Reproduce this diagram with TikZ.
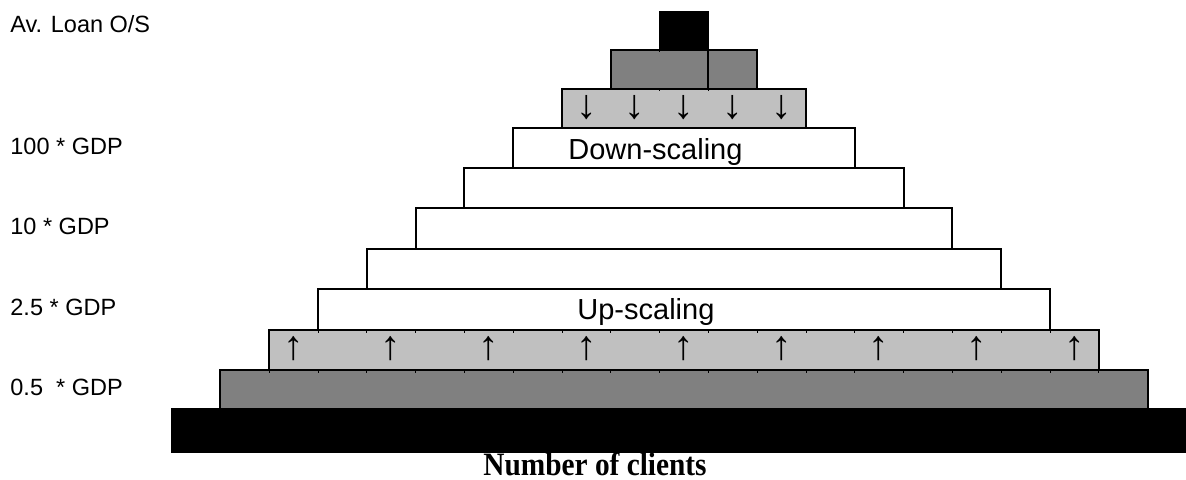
\documentclass[tikz,border=0pt]{standalone}
\usepackage{fontspec}
\setmainfont{Liberation Sans}
\newfontfamily\clientsfont{Liberation Serif}[FakeStretch=0.9]
\usetikzlibrary{calc}
\definecolor{dgray}{HTML}{808080}
\definecolor{lgray}{HTML}{C0C0C0}
\begin{document}
\begin{tikzpicture}[
        x=0.5pt, y=-0.5pt,
        tier/.style={rectangle, draw=black, line width=1pt, inner sep=0pt, outer sep=0pt},
        gridtick/.style={draw=black, line width=0.5pt},
        arrowmark/.style={font=\fontsize{20.5}{24}\selectfont, inner sep=0pt},
        tierlabel/.style={font=\fontsize{14.5}{17}\selectfont, inner sep=0pt, anchor=base west},
        axislabel/.style={font=\fontsize{11.75}{14}\selectfont, inner sep=0pt, anchor=base west},
        axistitle/.style={font=\clientsfont\bfseries\fontsize{16.3}{19}\selectfont, inner sep=0pt, anchor=base}
    ]
        \useasboundingbox (0,0) rectangle (1186,480);
        \foreach \i/\ytop/\ybot/\col in {0/12/50/black, 1/50/89/dgray, 2/89/128/lgray, 3/128/168/white, 4/168/208/white, 5/208/249/white, 6/249/289/white, 7/289/330/white, 8/330/370/lgray, 9/370/409/dgray, 10/409/452/black} {
            \pgfmathsetmacro{\tierw}{(2*\i+1)*24.4}
            \pgfmathsetmacro{\tierh}{(\ybot-\ytop)/2}
            \node[tier, fill=\col, minimum width=\tierw pt, minimum height=\tierh pt] (tier\i) at (684, {(\ytop+\ybot)/2}) {};
        }
        \draw[tier] ($(tier1.north)+(24.4,0)$) -- ($(tier1.south)+(24.4,0)$);
        \draw[gridtick] ($(tier1.north)+(-24.4,0)$) -- ++(0,2.5);
        \draw[gridtick] ($(tier2.north)+(-24.4,0)$) -- ++(0,2.5);
        \draw[gridtick] ($(tier2.north)+(24.4,0)$) -- ++(0,2.5);
        \foreach \k in {1,...,16} \draw[gridtick] ($(tier8.north west)+(\k*48.8,0)$) -- ++(0,2.5);
        \foreach \k in {0,...,17} \draw[gridtick] ($(tier8.south west)+(\k*48.8,0)$) -- ++(0,2.5);
        \foreach \j in {0,...,4} \node[arrowmark] (down\j) at ($(tier2.west)+(24.4+\j*48.8,-1)$) {↓};
        \foreach \j in {0,...,8} \node[arrowmark] (up\j) at ($(tier8.west)+(24.4+\j*97.6,-1.5)$) {↑};
        \node[tierlabel] (downscale) at (568,160) {Down-scaling};
        \node[tierlabel] (upscale) at (577,320) {Up-scaling};
        \node[axislabel] (avloan) at (10,33) {Av. Loan O/S};
        \node[axislabel] (gdp100) at (10,155) {100 * GDP};
        \node[axislabel] (gdp10) at (10,235) {10 * GDP};
        \node[axislabel] (gdp25) at (10,315) {2.5 * GDP};
        \node[axislabel] (gdp05) at (10,395) {0.5~ * GDP};
        \node[axistitle] (clients) at (595,475) {Number of clients};
    \end{tikzpicture}
\end{document}
